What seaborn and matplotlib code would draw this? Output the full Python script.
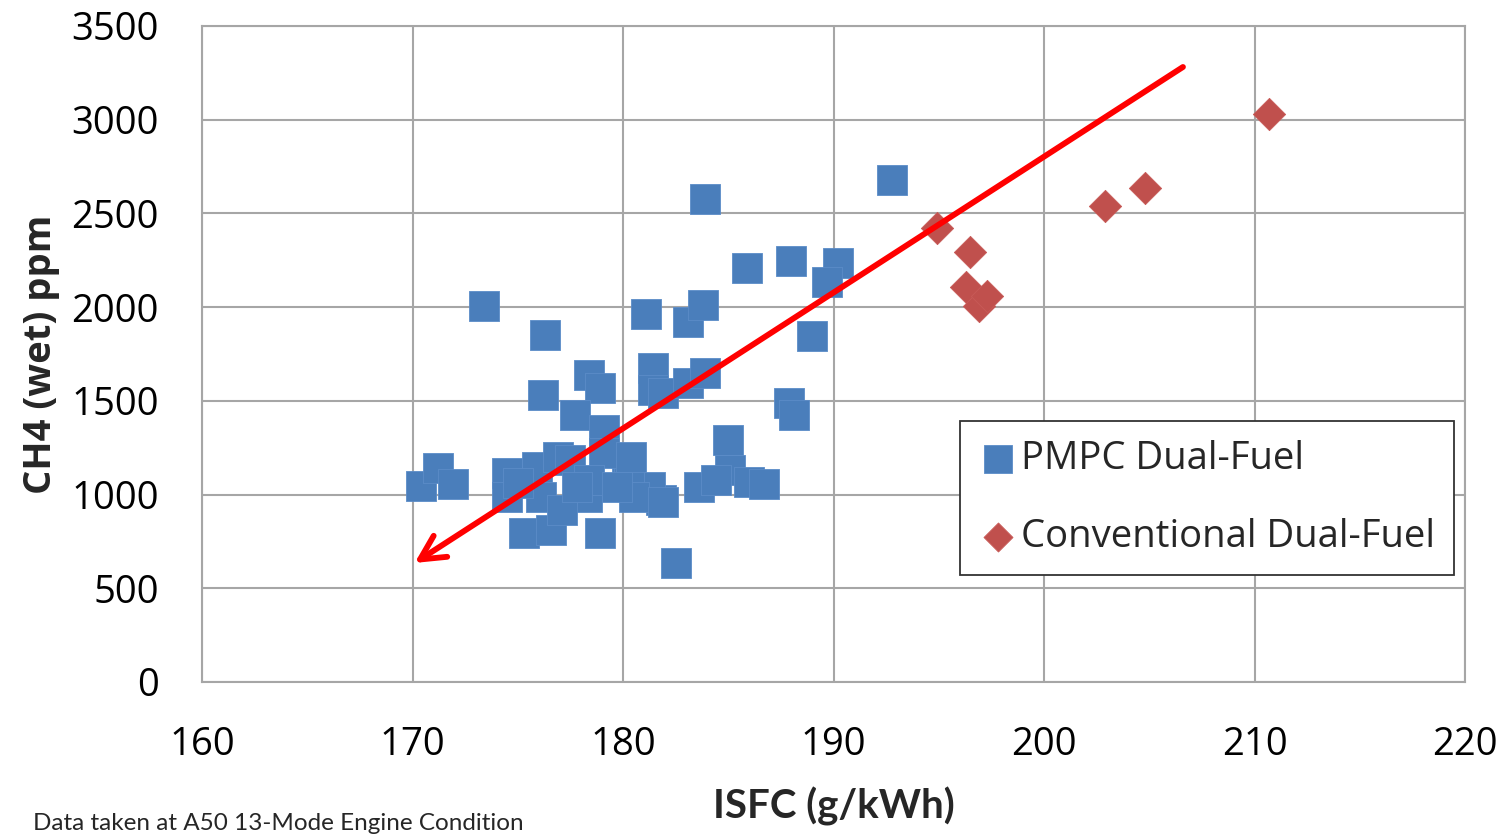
import numpy as np
import pandas as pd
import matplotlib
matplotlib.use("Agg")
import matplotlib.pyplot as plt
import seaborn as sns

# ---- data ----
pmpc_isfc = [170.4, 171.2, 171.9, 173.4, 176.3, 176.2, 178.4, 178.9, 177.7, 179.1,
             181.1, 183.1, 183.8, 183.9, 185.9, 188.0, 190.2, 189.7, 189.0, 187.9,
             188.1, 192.8, 181.4, 181.4, 181.9, 183.1, 183.9, 185.0, 185.1, 186.0,
             186.7, 183.6, 184.4, 182.5, 181.8, 181.3, 180.2, 180.3, 174.5, 174.5,
             175.9, 176.9, 177.5, 175.3, 176.6, 178.9, 179.1, 180.4, 180.5, 181.9,
             176.1, 178.3, 178.4, 179.7, 177.1, 175.0, 177.8]
pmpc_ch4 = [1046, 1142, 1056, 2006, 1851, 1531, 1638, 1569, 1425, 1345,
            1963, 1921, 2011, 2577, 2209, 2246, 2235, 2134, 1846, 1489,
            1425, 2678, 1675, 1558, 1542, 1595, 1649, 1291, 1131, 1067,
            1056, 1040, 1078, 635, 971, 1040, 1184, 1078, 1115, 987,
            1147, 1200, 1184, 795, 811, 795, 1222, 1200, 987, 960,
            987, 987, 1078, 1040, 918, 1060, 1040]
conv_isfc = [194.9, 196.5, 196.3, 196.9, 197.3, 202.9, 204.8, 210.7]
conv_ch4 = [2422, 2294, 2107, 2006, 2059, 2540, 2636, 3030]

series_names = ["PMPC Dual-Fuel", "Conventional Dual-Fuel"]
x_ticks = [160, 170, 180, 190, 200, 210, 220]
y_ticks = [0, 500, 1000, 1500, 2000, 2500, 3000, 3500]
arrow_tail = (206.6, 3281)
arrow_head = (170.1, 635)

df = pd.DataFrame({
    "ISFC": pmpc_isfc + conv_isfc,
    "CH4": pmpc_ch4 + conv_ch4,
    "Series": [series_names[0]] * len(pmpc_isfc) + [series_names[1]] * len(conv_isfc),
})

sns.set_style("white")
plt.rcParams["font.family"] = ["Open Sans", "DejaVu Sans"]

fig = plt.figure(figsize=(15.08, 8.34), dpi=100)
ax = fig.add_axes([0.134, 0.1823, 0.8375, 0.7866])

palette = {series_names[0]: "#4a7ebb", series_names[1]: "#c0504d"}

sub1 = df[df.Series == series_names[0]]
sub2 = df[df.Series == series_names[1]]
sns.scatterplot(data=sub1, x="ISFC", y="CH4", color=palette[series_names[0]],
                marker="s", s=470, edgecolor="#5b8cc8", linewidth=0.6, ax=ax,
                label=series_names[0], zorder=3)
sns.scatterplot(data=sub2, x="ISFC", y="CH4", color=palette[series_names[1]],
                marker="D", s=270, edgecolor="#c85a57", linewidth=0.6, ax=ax,
                label=series_names[1], zorder=3)

ax.set_xlim(160, 220)
ax.set_ylim(0, 3500)
ax.set_xticks(x_ticks)
ax.set_yticks(y_ticks)
ax.grid(True, color="#a6a6a6", linewidth=1.5, zorder=0)
ax.set_axisbelow(True)
for sp in ax.spines.values():
    sp.set_color("#a6a6a6")
    sp.set_linewidth(1.5)
ax.tick_params(axis="both", length=0, labelsize=27.5, colors="black")
ax.tick_params(axis="x", pad=32)
ax.tick_params(axis="y", pad=31)

ax.set_xlabel("ISFC (g/kWh)", fontsize=29, fontweight="bold", labelpad=16,
              family=["Lato", "DejaVu Sans"])
ax.set_ylabel("CH4 (wet) ppm", fontsize=27.5, fontweight="bold", labelpad=8)

ax.annotate("", xy=arrow_head, xytext=arrow_tail,
            arrowprops=dict(arrowstyle="->,head_length=0.7,head_width=0.36",
                            color="#ff0000", lw=4.2, mutation_scale=25,
                            shrinkA=0, shrinkB=0),
            zorder=5)

leg = ax.legend(loc="upper left", bbox_to_anchor=(0.600, 0.398),
                borderaxespad=0, fontsize=27.5, frameon=True, fancybox=False,
                edgecolor="#333333", labelspacing=1.05, handletextpad=0.1,
                handlelength=1.0, borderpad=0.5, markerscale=0.9)
leg.get_frame().set_linewidth(1.3)
leg.get_frame().set_alpha(1)

fig.text(0.022, 0.0, "Data taken at A50 13-Mode Engine Condition", fontsize=17.5,
         family=["Lato", "DejaVu Sans"], va="bottom", ha="left")

fig.savefig("out.png", dpi=100, facecolor="white")
